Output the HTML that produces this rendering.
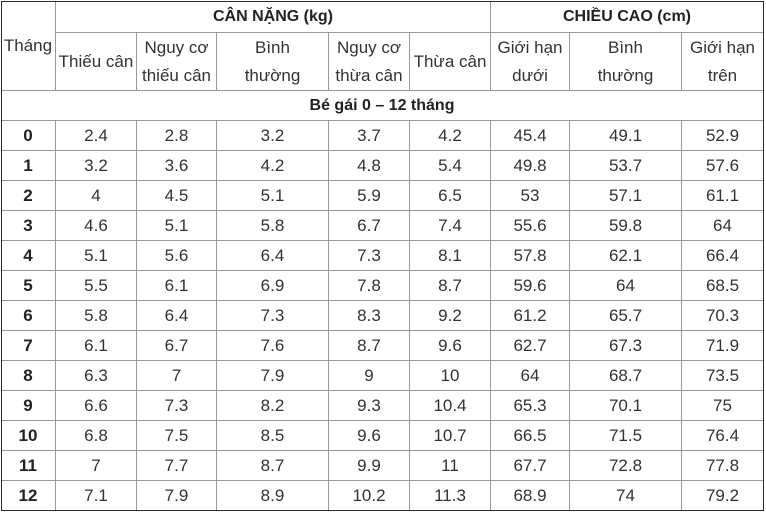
<!DOCTYPE html>
<html>
<head>
<meta charset="utf-8">
<style>
  html,body{margin:0;padding:0;background:#fff;}
  body{width:766px;height:512px;position:relative;overflow:hidden;
       font-family:"Liberation Sans","DejaVu Sans",sans-serif;font-size:17px;color:#333;}
  .h{position:absolute;height:1px;background:#999;}
  .v{position:absolute;width:1px;background:#999;}
  .o{background:#2b2b2b;}
  .cell{position:absolute;display:flex;align-items:center;justify-content:center;text-align:center;line-height:28px;}
  .row{position:absolute;left:0;width:766px;height:30px;}
  .row .cell{top:0;height:30px;}
  .b{font-weight:bold;color:#222;}
  .hb{font-size:16px;}
  .c0{left:1px;width:54px}
  .c1{left:56px;width:80px}
  .c2{left:137px;width:79px}
  .c3{left:217px;width:111px}
  .c4{left:329px;width:80px}
  .c5{left:410px;width:80px}
  .c6{left:491px;width:78px}
  .c7{left:570px;width:111px}
  .c8{left:682px;width:81px}
</style>
</head>
<body>
<!-- horizontal gray lines -->
<div class="h" style="top:32px;left:55px;width:708px"></div>
<div class="h" style="top:90px;left:1px;width:762px"></div>
<div class="h" style="top:120px;left:1px;width:762px"></div>
<div class="h" style="top:150px;left:1px;width:762px"></div>
<div class="h" style="top:180px;left:1px;width:762px"></div>
<div class="h" style="top:210px;left:1px;width:762px"></div>
<div class="h" style="top:240px;left:1px;width:762px"></div>
<div class="h" style="top:270px;left:1px;width:762px"></div>
<div class="h" style="top:300px;left:1px;width:762px"></div>
<div class="h" style="top:330px;left:1px;width:762px"></div>
<div class="h" style="top:360px;left:1px;width:762px"></div>
<div class="h" style="top:390px;left:1px;width:762px"></div>
<div class="h" style="top:420px;left:1px;width:762px"></div>
<div class="h" style="top:450px;left:1px;width:762px"></div>
<div class="h" style="top:480px;left:1px;width:762px"></div>
<!-- vertical gray lines -->
<div class="v" style="left:55px;top:1px;height:89px"></div>
<div class="v" style="left:55px;top:120px;height:390px"></div>
<div class="v" style="left:490px;top:1px;height:89px"></div>
<div class="v" style="left:136px;top:32px;height:58px"></div>
<div class="v" style="left:216px;top:32px;height:58px"></div>
<div class="v" style="left:328px;top:32px;height:58px"></div>
<div class="v" style="left:409px;top:32px;height:58px"></div>
<div class="v" style="left:569px;top:32px;height:58px"></div>
<div class="v" style="left:681px;top:32px;height:58px"></div>
<div class="v" style="left:136px;top:120px;height:390px"></div>
<div class="v" style="left:216px;top:120px;height:390px"></div>
<div class="v" style="left:328px;top:120px;height:390px"></div>
<div class="v" style="left:409px;top:120px;height:390px"></div>
<div class="v" style="left:490px;top:120px;height:390px"></div>
<div class="v" style="left:569px;top:120px;height:390px"></div>
<div class="v" style="left:681px;top:120px;height:390px"></div>
<!-- outer border -->
<div class="h o" style="top:1px;left:1px;width:763px"></div>
<div class="h o" style="top:510px;left:1px;width:763px"></div>
<div class="v o" style="left:1px;top:1px;height:510px"></div>
<div class="v o" style="left:763px;top:1px;height:510px"></div>

<!-- header -->
<div class="cell c0" style="top:2px;height:88px;">Tháng</div>
<div class="cell b hb" style="left:56px;width:434px;top:2px;height:30px;">CÂN NẶNG (kg)</div>
<div class="cell b hb" style="left:491px;width:272px;top:2px;height:30px;">CHIỀU CAO (cm)</div>
<div class="cell c1" style="top:33px;height:57px;">Thiếu cân</div>
<div class="cell c2" style="top:33px;height:57px;">Nguy cơ<br>thiếu cân</div>
<div class="cell c3" style="top:33px;height:57px;">Bình<br>thường</div>
<div class="cell c4" style="top:33px;height:57px;">Nguy cơ<br>thừa cân</div>
<div class="cell c5" style="top:33px;height:57px;">Thừa cân</div>
<div class="cell c6" style="top:33px;height:57px;">Giới hạn<br>dưới</div>
<div class="cell c7" style="top:33px;height:57px;">Bình<br>thường</div>
<div class="cell c8" style="top:33px;height:57px;">Giới hạn<br>trên</div>
<div class="cell b hb" style="left:1px;width:762px;top:91px;height:29px;">Bé gái 0 – 12 tháng</div>

<!-- data rows -->
<div class="row" style="top:121px"><div class="cell c0 b">0</div><div class="cell c1">2.4</div><div class="cell c2">2.8</div><div class="cell c3">3.2</div><div class="cell c4">3.7</div><div class="cell c5">4.2</div><div class="cell c6">45.4</div><div class="cell c7">49.1</div><div class="cell c8">52.9</div></div>
<div class="row" style="top:151px"><div class="cell c0 b">1</div><div class="cell c1">3.2</div><div class="cell c2">3.6</div><div class="cell c3">4.2</div><div class="cell c4">4.8</div><div class="cell c5">5.4</div><div class="cell c6">49.8</div><div class="cell c7">53.7</div><div class="cell c8">57.6</div></div>
<div class="row" style="top:181px"><div class="cell c0 b">2</div><div class="cell c1">4</div><div class="cell c2">4.5</div><div class="cell c3">5.1</div><div class="cell c4">5.9</div><div class="cell c5">6.5</div><div class="cell c6">53</div><div class="cell c7">57.1</div><div class="cell c8">61.1</div></div>
<div class="row" style="top:211px"><div class="cell c0 b">3</div><div class="cell c1">4.6</div><div class="cell c2">5.1</div><div class="cell c3">5.8</div><div class="cell c4">6.7</div><div class="cell c5">7.4</div><div class="cell c6">55.6</div><div class="cell c7">59.8</div><div class="cell c8">64</div></div>
<div class="row" style="top:241px"><div class="cell c0 b">4</div><div class="cell c1">5.1</div><div class="cell c2">5.6</div><div class="cell c3">6.4</div><div class="cell c4">7.3</div><div class="cell c5">8.1</div><div class="cell c6">57.8</div><div class="cell c7">62.1</div><div class="cell c8">66.4</div></div>
<div class="row" style="top:271px"><div class="cell c0 b">5</div><div class="cell c1">5.5</div><div class="cell c2">6.1</div><div class="cell c3">6.9</div><div class="cell c4">7.8</div><div class="cell c5">8.7</div><div class="cell c6">59.6</div><div class="cell c7">64</div><div class="cell c8">68.5</div></div>
<div class="row" style="top:301px"><div class="cell c0 b">6</div><div class="cell c1">5.8</div><div class="cell c2">6.4</div><div class="cell c3">7.3</div><div class="cell c4">8.3</div><div class="cell c5">9.2</div><div class="cell c6">61.2</div><div class="cell c7">65.7</div><div class="cell c8">70.3</div></div>
<div class="row" style="top:331px"><div class="cell c0 b">7</div><div class="cell c1">6.1</div><div class="cell c2">6.7</div><div class="cell c3">7.6</div><div class="cell c4">8.7</div><div class="cell c5">9.6</div><div class="cell c6">62.7</div><div class="cell c7">67.3</div><div class="cell c8">71.9</div></div>
<div class="row" style="top:361px"><div class="cell c0 b">8</div><div class="cell c1">6.3</div><div class="cell c2">7</div><div class="cell c3">7.9</div><div class="cell c4">9</div><div class="cell c5">10</div><div class="cell c6">64</div><div class="cell c7">68.7</div><div class="cell c8">73.5</div></div>
<div class="row" style="top:391px"><div class="cell c0 b">9</div><div class="cell c1">6.6</div><div class="cell c2">7.3</div><div class="cell c3">8.2</div><div class="cell c4">9.3</div><div class="cell c5">10.4</div><div class="cell c6">65.3</div><div class="cell c7">70.1</div><div class="cell c8">75</div></div>
<div class="row" style="top:421px"><div class="cell c0 b">10</div><div class="cell c1">6.8</div><div class="cell c2">7.5</div><div class="cell c3">8.5</div><div class="cell c4">9.6</div><div class="cell c5">10.7</div><div class="cell c6">66.5</div><div class="cell c7">71.5</div><div class="cell c8">76.4</div></div>
<div class="row" style="top:451px"><div class="cell c0 b">11</div><div class="cell c1">7</div><div class="cell c2">7.7</div><div class="cell c3">8.7</div><div class="cell c4">9.9</div><div class="cell c5">11</div><div class="cell c6">67.7</div><div class="cell c7">72.8</div><div class="cell c8">77.8</div></div>
<div class="row" style="top:481px"><div class="cell c0 b">12</div><div class="cell c1">7.1</div><div class="cell c2">7.9</div><div class="cell c3">8.9</div><div class="cell c4">10.2</div><div class="cell c5">11.3</div><div class="cell c6">68.9</div><div class="cell c7">74</div><div class="cell c8">79.2</div></div>
</body>
</html>
